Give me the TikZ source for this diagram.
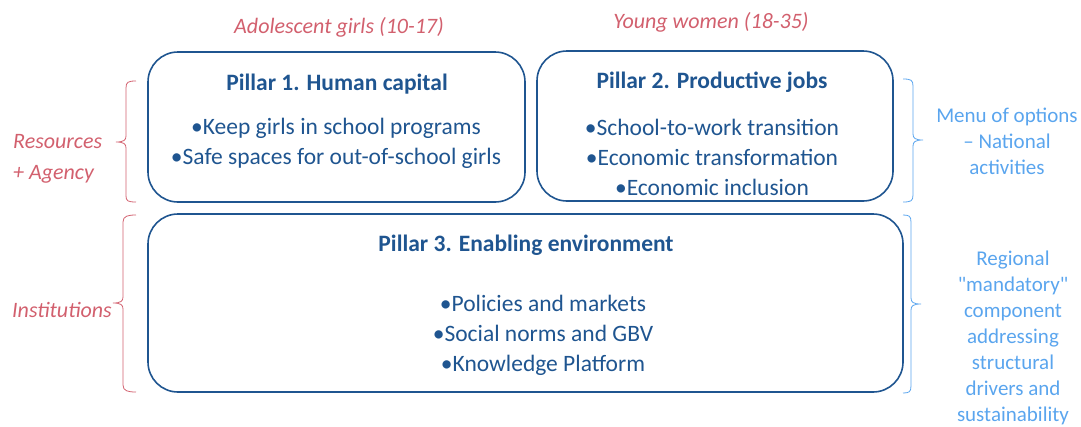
\documentclass[tikz,border=0pt]{standalone}
\usepackage{fontspec}
\setmainfont{Carlito}
\begin{document}
\definecolor{pillarblue}{HTML}{1F5590}
\definecolor{labelred}{HTML}{D2606E}
\definecolor{noteblue}{HTML}{5AA5EE}
\begin{tikzpicture}[x=1pt,y=-1pt,
  pillar/.style={draw=pillarblue,line width=1.6pt,rounded corners=30pt,inner sep=0pt},
  ptitle/.style={text=pillarblue,font=\fontsize{23.5}{28}\selectfont\bfseries,inner sep=0pt},
  pitem/.style={text=pillarblue,font=\fontsize{23.5}{30}\selectfont,align=center,inner sep=0pt},
  grouplabel/.style={text=labelred,font=\fontsize{22}{31}\selectfont\itshape,inner sep=0pt},
  notelabel/.style={text=noteblue,font=\fontsize{21}{26}\selectfont,align=center,inner sep=0pt},
  redbrace/.style={draw=labelred,line width=0.8pt},
  bluebrace/.style={draw=noteblue,line width=0.8pt}]
\useasboundingbox (0,0) rectangle (1081,426);

% pillar boxes
\node[pillar,minimum width=377pt,minimum height=150pt] (p1) at (336.5,127) {};
\node[pillar,minimum width=356pt,minimum height=150pt] (p2) at (715,126) {};
\node[pillar,minimum width=755pt,minimum height=178pt] (p3) at (525.5,303) {};

% pillar contents
\node[ptitle] (t1) at (337,84) {Pillar 1. Human capital};
\node[pitem] (i1) at (336,143.5) {•Keep girls in school programs\\•Safe spaces for out-of-school girls};
\node[ptitle] (t2) at (712,82) {Pillar 2. Productive jobs};
\node[pitem] (i2) at (712,157) {•School-to-work transition\\•Economic transformation\\•Economic inclusion};
\node[ptitle] (t3) at (526,245) {Pillar 3. Enabling environment};
\node[pitem] (i3) at (543,335) {•Policies and markets\\•Social norms and GBV\\•Knowledge Platform};

% target groups
\node[grouplabel] (g1) at (339,27) {Adolescent girls (10-17)};
\node[grouplabel] (g2) at (711,22) {Young women (18-35)};

% left-hand labels
\node[grouplabel,align=left,anchor=west] (l1) at (13,158.5) {Resources\\+ Agency};
\node[grouplabel,anchor=west] (l2) at (12,310) {Institutions};

% right-hand notes
\node[notelabel] (n1) at (1007,141) {Menu of options\\– National\\activities};
\node[notelabel] (n2) at (1013,337.5) {Regional\\\textquotedbl mandatory\textquotedbl\\component\\addressing\\structural\\drivers and\\sustainability};

% left braces
\draw[redbrace] (136,81) .. controls (128,81) and (126,82) .. (126,88) -- (126,136)
  .. controls (126,140) and (124,142) .. (116,142)
  .. controls (124,142) and (126,144) .. (126,148) -- (126,196)
  .. controls (126,201) and (128,202) .. (136,202);
\draw[redbrace] (136,215) .. controls (128,215) and (123,216) .. (123,222) -- (123,297)
  .. controls (123,301) and (121,303) .. (113,303)
  .. controls (121,303) and (123,305) .. (123,309) -- (123,385)
  .. controls (123,391) and (128,392) .. (136,392);

% right braces
\draw[bluebrace] (903,79) .. controls (911,79) and (913,80) .. (913,86) -- (913,134)
  .. controls (913,138) and (915,140) .. (923,140)
  .. controls (915,140) and (913,142) .. (913,146) -- (913,195)
  .. controls (913,201) and (911,202) .. (903,202);
\draw[bluebrace] (903,215) .. controls (909,215) and (911,216) .. (911,222) -- (911,298)
  .. controls (911,302) and (913,304) .. (921,304)
  .. controls (913,304) and (911,306) .. (911,310) -- (911,386)
  .. controls (911,392) and (909,393) .. (903,393);
\end{tikzpicture}
\end{document}
